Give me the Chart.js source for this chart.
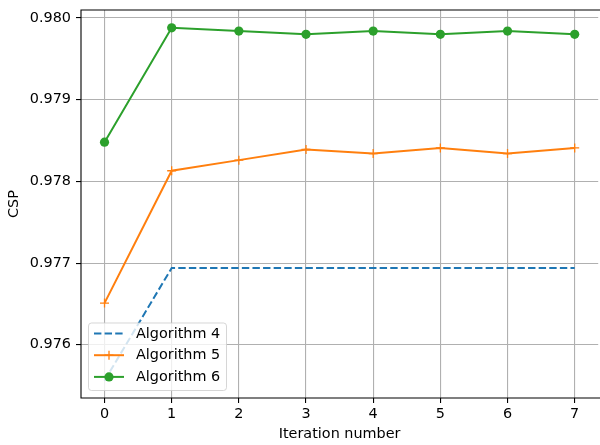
<!DOCTYPE html>
<html>
<head>
<meta charset="utf-8">
<script src="https://cdn.jsdelivr.net/npm/chart.js@4"></script>
<style>
  html, body { margin: 0; padding: 0; background: #fff; overflow: hidden; }
  #wrap { width: 604px; height: 445px; }
</style>
</head>
<body>
<div id="wrap"><canvas id="cspChart" width="604" height="445"></canvas></div>
<script>
// Iterations on the x axis
const iterations = [0, 1, 2, 3, 4, 5, 6, 7];
const xTicks = [0, 1, 2, 3, 4, 5, 6, 7];
const yTicks = [0.976, 0.977, 0.978, 0.979, 0.980];

// CSP per iteration for each algorithm
const alg4 = [0.97556, 0.97694, 0.97694, 0.97694, 0.97694, 0.97694, 0.97694, 0.97694];
const alg5 = [0.97651, 0.97813, 0.97826, 0.97839, 0.97834, 0.97841, 0.97834, 0.97841];
const alg6 = [0.97848, 0.97988, 0.97984, 0.97980, 0.97984, 0.97980, 0.97984, 0.97980];

const seriesNames = ['Algorithm 4', 'Algorithm 5', 'Algorithm 6'];

const FONT = 'DejaVu Sans';
const FONT_SIZE = 14.4;

function toPoints(values) {
    return iterations.map((it, i) => ({ x: it, y: values[i] }));
}

// Frame on top, left and bottom like a matplotlib axes
const framePlugin = {
    id: 'frame',
    afterDatasetsDraw(chart) {
        const { ctx, chartArea: a } = chart;
        ctx.save();
        ctx.strokeStyle = '#000';
        ctx.lineWidth = 1.1;
        ctx.beginPath();
        ctx.moveTo(a.right + 2, a.top);
        ctx.lineTo(a.left, a.top);
        ctx.lineTo(a.left, a.bottom);
        ctx.lineTo(a.right + 2, a.bottom);
        ctx.stroke();
        ctx.restore();
    }
};

// Legend box in the lower left corner of the plot
const boxLegend = {
    id: 'boxLegend',
    afterDraw(chart) {
        const { ctx, chartArea: a } = chart;
        const x0 = a.left + 7, y0 = a.bottom - 75.5, w = 138, h = 67.5;
        ctx.save();
        ctx.fillStyle = 'rgba(255,255,255,0.8)';
        ctx.strokeStyle = 'rgba(204,204,204,0.8)';
        ctx.lineWidth = 1;
        ctx.beginPath();
        ctx.roundRect(x0 + 0.5, y0 + 0.5, w, h, 3);
        ctx.fill();
        ctx.stroke();

        chart.data.datasets.forEach((ds, i) => {
            const cy = y0 + 11 + i * 21.7;
            ctx.strokeStyle = ds.borderColor;
            ctx.lineWidth = ds.borderWidth;
            ctx.setLineDash(ds.borderDash || []);
            ctx.beginPath();
            ctx.moveTo(x0 + 6, cy);
            ctx.lineTo(x0 + 36, cy);
            ctx.stroke();
            ctx.setLineDash([]);
            const mx = x0 + 21;
            if (ds.pointStyle === 'circle' && ds.pointRadius > 0) {
                ctx.fillStyle = ds.pointBackgroundColor;
                ctx.beginPath();
                ctx.arc(mx, cy, ds.pointRadius, 0, Math.PI * 2);
                ctx.fill();
            } else if (ds.pointStyle === 'cross' && ds.pointRadius > 0) {
                ctx.strokeStyle = ds.pointBorderColor;
                ctx.lineWidth = ds.pointBorderWidth;
                ctx.beginPath();
                ctx.moveTo(mx - ds.pointRadius, cy);
                ctx.lineTo(mx + ds.pointRadius, cy);
                ctx.moveTo(mx, cy - ds.pointRadius);
                ctx.lineTo(mx, cy + ds.pointRadius);
                ctx.stroke();
            }
            ctx.fillStyle = '#000';
            ctx.font = FONT_SIZE + 'px "' + FONT + '"';
            ctx.textBaseline = 'middle';
            ctx.textAlign = 'left';
            ctx.fillText(ds.label, x0 + 48, cy + 0.5);
        });
        ctx.restore();
    }
};

const ctx = document.getElementById('cspChart').getContext('2d');
new Chart(ctx, {
    type: 'line',
    data: {
        datasets: [
            {
                label: seriesNames[0],
                data: toPoints(alg4),
                borderColor: '#1f77b4',
                borderWidth: 2,
                borderDash: [7.4, 3.2],
                pointRadius: 0,
                pointStyle: false,
                tension: 0,
            },
            {
                label: seriesNames[1],
                data: toPoints(alg5),
                borderColor: '#ff7f0e',
                borderWidth: 2,
                pointStyle: 'cross',
                pointRadius: 4.5,
                pointBorderColor: '#ff7f0e',
                pointBorderWidth: 1.3,
                pointBackgroundColor: '#ff7f0e',
                tension: 0,
            },
            {
                label: seriesNames[2],
                data: toPoints(alg6),
                borderColor: '#2ca02c',
                borderWidth: 2,
                pointStyle: 'circle',
                pointRadius: 4.6,
                pointBorderWidth: 0,
                pointBackgroundColor: '#2ca02c',
                pointBorderColor: '#2ca02c',
                tension: 0,
            },
        ],
    },
    options: {
        responsive: false,
        animation: false,
        devicePixelRatio: 1,
        layout: { padding: { left: 0, top: 10, right: 2.3, bottom: 0 } },
        plugins: {
            legend: { display: false },
            tooltip: { enabled: false },
        },
        scales: {
            x: {
                type: 'linear',
                min: -0.35,
                max: 7.35,
                afterFit: scale => {
                    scale.height = 47;
                    scale.paddingLeft = 0;
                    scale.paddingRight = 0;
                },
                afterBuildTicks: scale => { scale.ticks = xTicks.map(v => ({ value: v })); },
                ticks: {
                    color: '#000',
                    font: { family: FONT, size: FONT_SIZE },
                    padding: 3,
                    maxRotation: 0,
                    autoSkip: false,
                    callback: v => String(v),
                },
                grid: { color: '#b0b0b0', lineWidth: 1.1, tickLength: 5, tickColor: '#000', tickWidth: 1.1 },
                border: { display: false },
                title: {
                    display: true,
                    text: 'Iteration number',
                    color: '#000',
                    font: { family: FONT, size: FONT_SIZE },
                    padding: { top: 0, bottom: 2.5 },
                },
            },
            y: {
                min: 0.975348,
                max: 0.980098,
                afterFit: scale => {
                    scale.width = 81;
                    scale.paddingTop = 0;
                    scale.paddingBottom = 0;
                },
                afterBuildTicks: scale => { scale.ticks = yTicks.map(v => ({ value: v })); },
                ticks: {
                    color: '#000',
                    font: { family: FONT, size: FONT_SIZE },
                    padding: 5,
                    autoSkip: false,
                    callback: v => v.toFixed(3),
                },
                grid: { color: '#b0b0b0', lineWidth: 1.1, tickLength: 5, tickColor: '#000', tickWidth: 1.1 },
                border: { display: false },
                title: {
                    display: true,
                    text: 'CSP',
                    color: '#000',
                    font: { family: FONT, size: FONT_SIZE },
                    padding: { top: 6, bottom: 0 },
                },
            },
        },
    },
    plugins: [framePlugin, boxLegend],
});
</script>
</body>
</html>
